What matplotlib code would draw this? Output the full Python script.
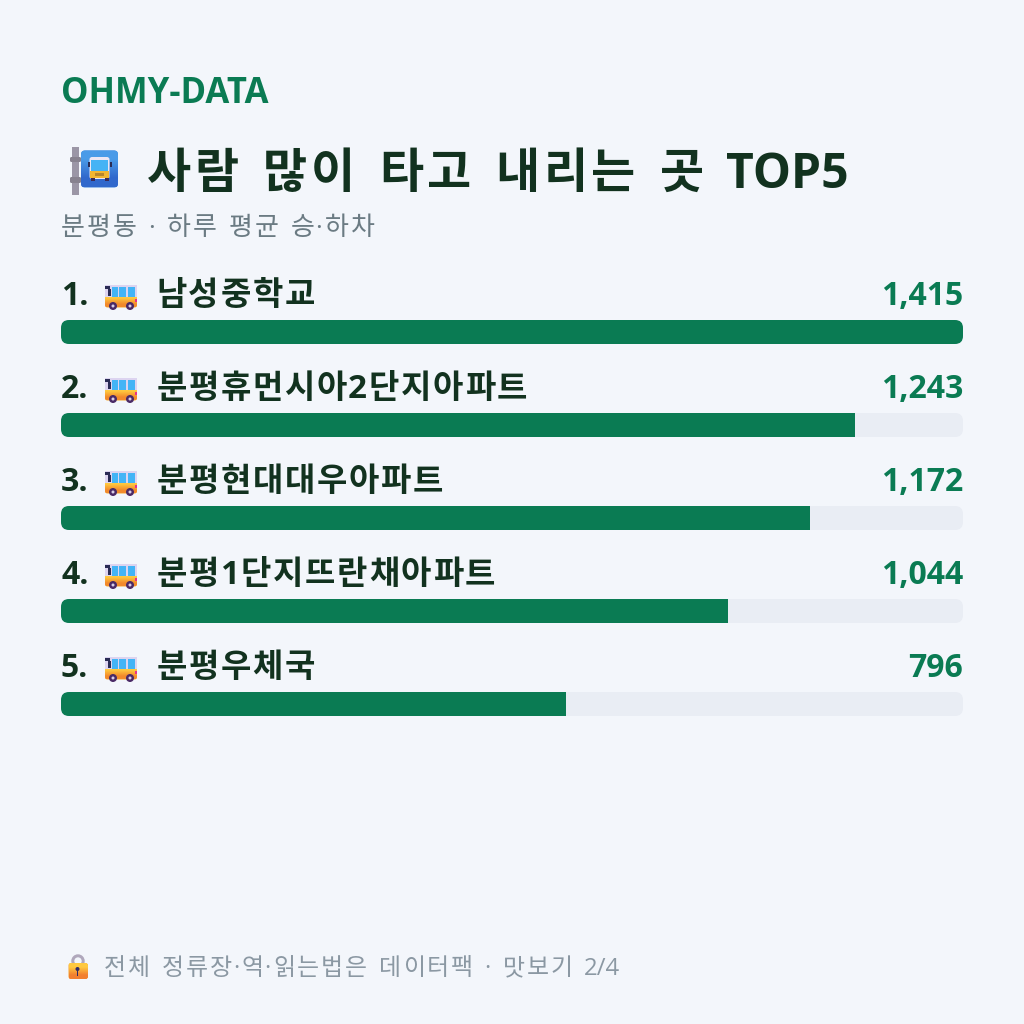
import re

import matplotlib
matplotlib.use("Agg")
import matplotlib.pyplot as plt
import numpy as np
from matplotlib.patches import Circle, FancyBboxPatch, Rectangle

stops = ["남성중학교", "분평휴먼시아2단지아파트", "분평현대대우아파트", "분평1단지뜨란채아파트", "분평우체국"]
riders = [1415, 1243, 1172, 1044, 796]
ranks = ["1.", "2.", "3.", "4.", "5."]

BG = "#F3F6FB"
GREEN = "#0A7B53"
INK = "#12321F"
TRACK = "#E9EDF4"
FONTS = ["Open Sans", "Noto Sans CJK KR"]
PX = 0.72  # points per pixel at dpi 100
ROW = 93

plt.rcParams["font.family"] = FONTS

fig = plt.figure(figsize=(10.24, 10.24), dpi=100, facecolor=BG)

# page layer in pixel coordinates
page = fig.add_axes([0, 0, 1, 1], zorder=2)
page.set_xlim(0, 1024)
page.set_ylim(1024, 0)
page.axis("off")

# bar layer: one row every 93 px, bars are whole percents of the top stop
top = 332 - ROW / 2
bars = fig.add_axes([61 / 1024, 1 - (top + 5 * ROW) / 1024, 902 / 1024, 5 * ROW / 1024], zorder=1)
bars.set_xlim(0, 100)
bars.set_ylim(4.5, -0.5)
bars.axis("off")


def rounded(ax, x, y, w, h, r, color, aspect=1.0, **kw):
    patch = FancyBboxPatch((x, y), w, h, boxstyle=f"round,pad=0,rounding_size={r}",
                           facecolor=color, edgecolor="none", mutation_aspect=aspect, **kw)
    ax.add_patch(patch)
    return patch


def gradient(ax, x, y, w, h, c1, c2, clip, zorder):
    rgb = np.array([matplotlib.colors.to_rgb(c1), matplotlib.colors.to_rgb(c2)])
    im = ax.imshow(rgb[:, None, :], extent=(x, x + w, y + h, y), interpolation="bilinear",
                   aspect="auto", zorder=zorder)
    im.set_clip_path(clip)


def box(ax, x, y, w, h, color, zorder):
    ax.add_patch(Rectangle((x, y), w, h, facecolor=color, edgecolor="none", zorder=zorder))


def spaced(x, y, s, size, color, weight="normal", hangul=1.0, space=0.36):
    # hangul gets a fixed advance, the rest of the string keeps its own widths
    tokens = re.findall(r"[가-힣]|\s|[^가-힣\s]+", s)
    for tok in tokens:
        if re.match(r"[가-힣]", tok):
            page.text(x + size * (hangul - 0.92) / 2, y, tok, fontsize=size * PX, color=color,
                      fontweight=weight, va="baseline")
            x += size * hangul
        elif tok.isspace():
            x += size * space
        else:
            t = page.text(x, y, tok, fontsize=size * PX, color=color, fontweight=weight, va="baseline")
            x += t.get_window_extent(fig.canvas.get_renderer()).width + size * 0.05


def draw_bus(ax, x, y):
    # small side-view bus, about 32 x 25 px
    body = rounded(ax, x, y, 32, 22.5, 2.5, "#F6A92F", zorder=3)
    gradient(ax, x, y + 11, 32, 11.5, "#FFC83F", "#F28A2C", body, 4)
    box(ax, x, y, 32, 12, "#DCD4F0", 5)
    box(ax, x + 7, y + 1.5, 5.5, 10.5, "#43B4F6", 6)
    box(ax, x + 14, y + 1.5, 7, 10.5, "#43B4F6", 6)
    box(ax, x + 23, y + 1.5, 7, 10.5, "#43B4F6", 6)
    box(ax, x, y + 1, 5, 2.5, "#2A2C55", 6)
    box(ax, x + 2.5, y + 3.5, 3, 7.5, "#2A2C55", 6)
    box(ax, x + 30, y + 14, 2, 2.5, "#E8308A", 6)
    for wx in (x + 8, x + 25):
        ax.add_patch(Circle((wx, y + 21), 4, facecolor="#4A2A66", edgecolor="none", zorder=7))
        ax.add_patch(Circle((wx, y + 21), 1.5, facecolor="#D9CDE6", edgecolor="none", zorder=8))


def draw_stop_sign(ax):
    pole = Rectangle((72, 147), 7, 48, facecolor="#9B96A6", edgecolor="none", zorder=3)
    ax.add_patch(pole)
    rounded(ax, 70, 157, 11, 5, 1.5, "#87828F", zorder=3)
    rounded(ax, 70, 177, 11, 6, 1.5, "#87828F", zorder=3)
    sign = rounded(ax, 81, 150.5, 37, 37, 4, "#3B82DC", zorder=4)
    gradient(ax, 81, 150.5, 37, 37, "#4A9BE8", "#3168CC", sign, 5)
    # front view of the bus on the sign
    rounded(ax, 89.5, 157, 20, 22, 2.5, "#ECE6F4", zorder=6)
    box(ax, 91, 160, 17, 10.5, "#45B3F5", 7)
    box(ax, 90, 170.5, 19, 7.5, "#F2B632", 7)
    box(ax, 95, 172.5, 9, 3, "#B8862A", 8)
    box(ax, 87.5, 162, 2, 5, "#2A2C55", 6)
    box(ax, 109.5, 162, 2, 5, "#2A2C55", 6)
    box(ax, 90.5, 178, 4, 3, "#3B2A55", 6)
    box(ax, 104.5, 178, 4, 3, "#3B2A55", 6)


def draw_lock(ax):
    shackle = Circle((78, 961), 5.2, facecolor="none", edgecolor="#B0A8BC", linewidth=3 * PX, zorder=3)
    ax.add_patch(shackle)
    body = rounded(ax, 68.5, 963, 19.5, 16, 2.5, "#F7A530", zorder=4)
    gradient(ax, 68.5, 963, 19.5, 16, "#FFC93F", "#F27F30", body, 5)
    ax.add_patch(Circle((77.5, 969), 2, facecolor="#2F2A66", edgecolor="none", zorder=6))
    box(ax, 76.6, 969, 1.8, 7, "#2F2A66", 6)


# header
page.text(61, 103, "OHMY-DATA", fontsize=34.7 * PX, fontweight="bold", color=GREEN, va="baseline")
spaced(145, 188, "사람 많이 타고 내리는 곳 TOP5", 48, INK, weight="bold", space=0.42)
spaced(60, 235, "분평동 · 하루 평균 승·하차", 26, "#6B7B83", space=0.38)
draw_stop_sign(page)

# ranked rows
for i, (name, value) in enumerate(zip(stops, riders)):
    share = round(value / max(riders) * 100)
    track = rounded(bars, 0, i - 12 / ROW, 100, 24 / ROW, 8 * 100 / 902, TRACK,
                    aspect=(1 / ROW) / (100 / 902), zorder=1)
    drawn = bars.barh(i, share, height=24 / ROW, color=GREEN, edgecolor="none", zorder=2)
    drawn[0].set_clip_path(track)
    row_y = 305 + i * ROW
    page.text(61, row_y, ranks[i], fontsize=32 * PX, fontweight="bold", color=INK, va="baseline")
    draw_bus(page, 105, row_y - 20)
    spaced(155.5, row_y, name, 33, INK, weight="bold", hangul=0.97)
    page.text(963, row_y, f"{value:,}", fontsize=32 * PX, fontweight="bold", color=GREEN, va="baseline", ha="right")

# footer
draw_lock(page)
spaced(103, 975, "전체 정류장·역·읽는법은 데이터팩 · 맛보기 2/4", 24, "#8B98A3", space=0.42)

page.set_xlim(0, 1024)
page.set_ylim(1024, 0)

fig.savefig("out.png", dpi=100, facecolor=BG)
